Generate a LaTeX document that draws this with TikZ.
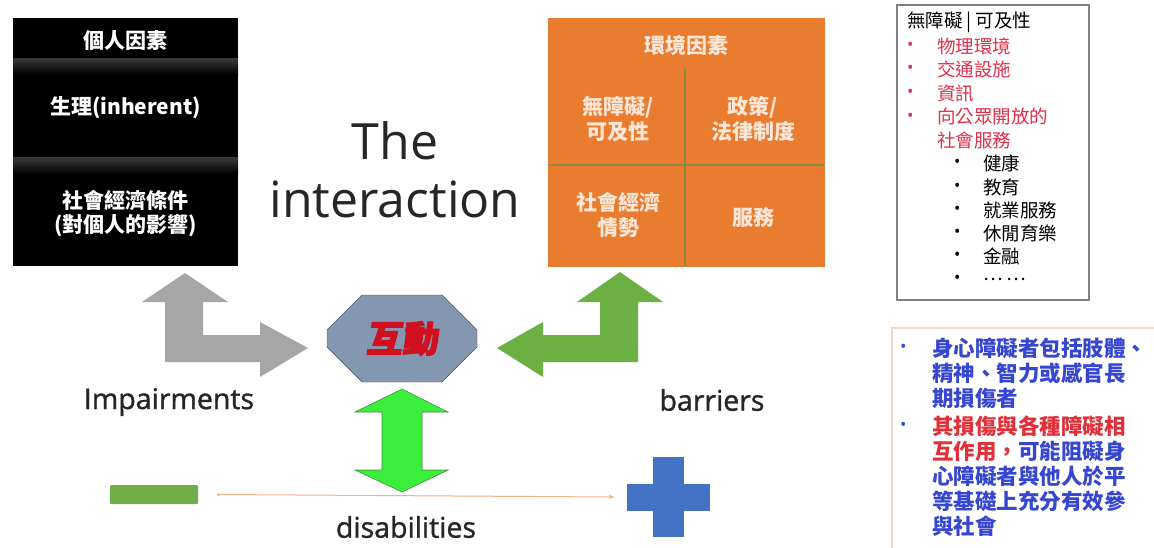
\documentclass[tikz,border=0pt]{standalone}
\usepackage{fontspec}
\setmainfont{Open Sans}
\newfontfamily\cjk{Noto Sans CJK TC}
\newfontfamily\cjkhub{Noto Sans CJK TC}[FakeSlant=0.12,FakeBold=3]
\newfontfamily\wordfont{Open Sans}[FakeBold=1.2]
\usepackage{tikz}
\usetikzlibrary{arrows.meta,positioning,shapes.misc}
\definecolor{envorange}{HTML}{E97C2E}
\definecolor{orangeink}{HTML}{FBE6D8}
\definecolor{gridolive}{HTML}{8C8B45}
\definecolor{darkband}{HTML}{3A3A3A}
\definecolor{bendgray}{HTML}{A6A6A6}
\definecolor{bendgreen}{HTML}{6CAF42}
\definecolor{brightgreen}{HTML}{3CEE3C}
\definecolor{arrowrim}{HTML}{3C8F3C}
\definecolor{hubfill}{HTML}{8497B0}
\definecolor{hubline}{HTML}{44546A}
\definecolor{hubred}{HTML}{D0101E}
\definecolor{minusgreen}{HTML}{70AD47}
\definecolor{plusblue}{HTML}{4472C4}
\definecolor{scaleline}{HTML}{F4B183}
\definecolor{wordgray}{HTML}{262626}
\definecolor{listred}{HTML}{E0304A}
\definecolor{noteblue}{HTML}{3646D0}
\definecolor{notered}{HTML}{E0303A}
\definecolor{noterim}{HTML}{F2D6C6}

\begin{document}
\begin{tikzpicture}[x=1pt,y=-1pt,>=Stealth]

\tikzset{
darkhead/.style={
    text=white,
    font=\cjk\bfseries\fontsize{21}{24}\selectfont,
    align=center
},
orangetext/.style={
    text=orangeink,
    font=\cjk\bfseries\fontsize{21}{25}\selectfont,
    align=center
},
gridline/.style={draw=gridolive,line width=2.5pt},
bigword/.style={font=\wordfont\fontsize{28.5}{32}\selectfont,text=wordgray},
hub/.style={
    chamfered rectangle,
    chamfered rectangle xsep=20pt,
    chamfered rectangle ysep=15pt,
    minimum width=150pt,
    minimum height=87pt,
    fill=hubfill,
    draw=hubline,
    text=hubred,
    font=\cjkhub\bfseries\fontsize{36}{40}\selectfont
},
listtext/.style={anchor=west,inner sep=0pt,font=\cjk\fontsize{18.5}{22}\selectfont},
notetext/.style={anchor=west,inner sep=0pt,font=\cjk\bfseries\fontsize{21.5}{24}\selectfont},
dotmark/.style={anchor=west,inner sep=0pt,font=\fontsize{17}{18}\selectfont}
}

\useasboundingbox (0,0) rectangle (1154,547);
\fill[white] (0,0) rectangle (1154,547);

% personal factors
\fill[black] (13,18) rectangle (238,266);
\shade[top color=darkband,bottom color=black] (13,58) rectangle (238,75);
\shade[top color=darkband,bottom color=black] (13,157) rectangle (238,174);
\node[darkhead] (personal) at (125.5,41) {個人因素};
\node[darkhead] (body) at (125.5,108) {生理(inherent)};
\node[darkhead] (socio) at (125.5,214) {社會經濟條件\\(對個人的影響)};

% environmental factors
\fill[envorange] (548,18) rectangle (825,267);
\draw[gridline] (685,68) -- (685,267);
\draw[gridline] (548,165) -- (825,165);
\node[orangetext] (envhead) at (686,45) {環境因素};
\node[orangetext] (access) at (618,119) {無障礙/\\可及性};
\node[orangetext] (policy) at (753,119) {政策/\\法律制度};
\node[orangetext] (economy) at (618,215) {社會經濟\\情勢};
\node[orangetext] (service) at (753,218) {服務};

% title
\node[font=\fontsize{50}{58}\selectfont,text=wordgray,align=center] (title) at (395,170) {The\\interaction};

% interaction hub and arrows
\node[hub] (hub) at (402,338.5) {互動};
\fill[bendgray] (185,273) -- (228,302) -- (203,302) -- (203,335) -- (260,335) -- (260,322)
    -- (308,348) -- (260,377) -- (260,362) -- (165,362) -- (165,302) -- (142,302) -- cycle;
\fill[bendgreen] (620,272) -- (663,302) -- (638,302) -- (638,362) -- (543,362) -- (543,377)
    -- (497,348) -- (543,322) -- (543,335) -- (600,335) -- (600,302) -- (577,302) -- cycle;
\filldraw[fill=brightgreen,draw=arrowrim,line width=0.6pt] (402,389) -- (448,412) -- (422,412) -- (422,470)
    -- (448,470) -- (402,492) -- (355,470) -- (382,470) -- (382,412) -- (355,412) -- cycle;

\node[bigword] (impair) at (169,402) {Impairments};
\node[bigword] (barrier) at (712,400) {barriers};

% scale from minus to plus
\node[fill=minusgreen,minimum width=88pt,minimum height=19pt,inner sep=0pt,rounded corners=1pt] (minus) at (154,494.5) {};
\coordinate (plus) at (668.5,497);
\fill[plusblue] ([xshift=-41.5pt,yshift=-14pt]plus) rectangle ([xshift=41.5pt,yshift=13pt]plus);
\fill[plusblue] ([xshift=-15.5pt,yshift=-40pt]plus) rectangle ([xshift=15.5pt,yshift=40pt]plus);
\draw[scaleline,line width=1pt,{Circle[length=3pt]}-{Stealth[length=6pt]}] ([xshift=19pt]minus.east) -- ([xshift=-54pt]plus);
\node[bigword] (disab) at (406,527) {disabilities};

% accessibility list
\draw[gray,line width=1.5pt] (897,5) rectangle (1089,300);
\node[listtext] (acctitle) at (907,22) {無障礙 | 可及性};
\foreach \y/\txt in {46/物理環境,69/交通設施,93/資訊,117/向公眾開放的}{
    \node[dotmark,text=listred] at (907,\y) {\textbullet};
    \node[listtext,text=listred] at (937,\y) {\txt};
}
\node[listtext,text=listred] (socserv) at (937,140) {社會服務};
\foreach \y/\txt in {163/健康,187/教育,210/就業服務,233/休閒育樂,256/金融,279/… …}{
    \node[dotmark] at (954,\y) {\textbullet};
    \node[listtext] at (983,\y) {\txt};
}

% definition note
\draw[noterim,line width=1.5pt] (1170,328) -- (892,328) -- (892,560);
\node[dotmark,text=noteblue] at (900,348) {\textbullet};
\node[dotmark,text=noteblue] at (900,426) {\textbullet};
\foreach \y/\txt in {348/身心障礙者包括肢體、,373/精神、智力或感官長,398/期損傷者}{
    \node[notetext,text=noteblue] at (932,\y) {\txt};
}
\node[notetext,text=notered] (interline) at (932,426) {其損傷與各種障礙相};
\node[notetext] (mixline) at (932,451) {\textcolor{notered}{互作用，}\textcolor{noteblue}{可能阻礙身}};
\foreach \y/\txt in {476/心障礙者與他人於平,501/等基礎上充分有效參,526/與社會}{
    \node[notetext,text=noteblue] at (932,\y) {\txt};
}

\end{tikzpicture}
\end{document}
